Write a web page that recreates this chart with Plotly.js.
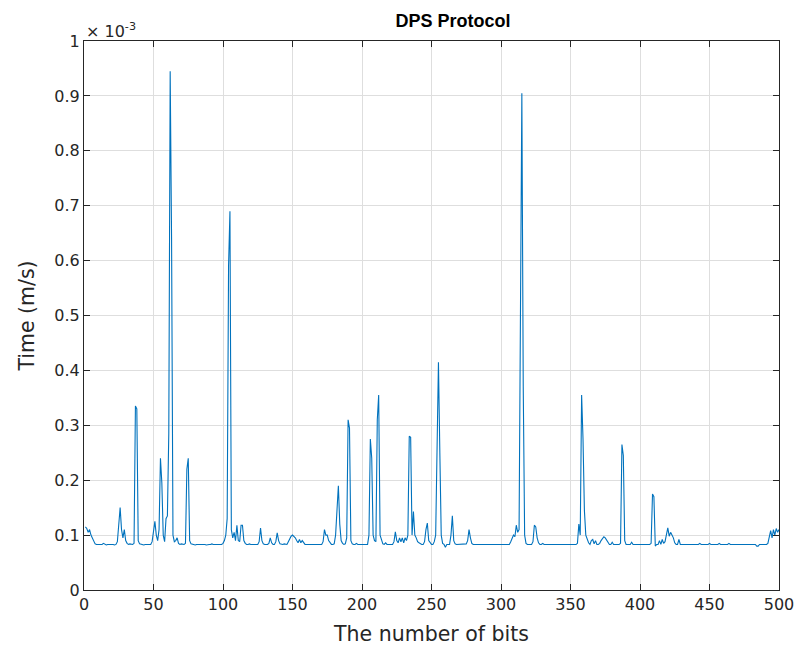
<!DOCTYPE html>
<html>
<head>
<meta charset="utf-8">
<script src="https://cdn.plot.ly/plotly-3.0.1.min.js"></script>
<style>html,body{margin:0;padding:0;background:#fff;}#chart{width:804px;height:655px;}</style>
</head>
<body>
<div id="chart"></div>
<script>
// Time values in units of 1e-3 (index = number of bits, 1..500)
var timeValues = [
0.115,0.112,0.105,0.11,0.1,0.095,0.088,0.084,0.083,0.083,
0.082,0.083,0.083,0.085,0.083,0.082,0.083,0.083,0.084,0.083,
0.083,0.082,0.083,0.088,0.125,0.15,0.11,0.095,0.11,0.09,
0.085,0.083,0.084,0.083,0.083,0.085,0.335,0.33,0.09,0.084,
0.083,0.083,0.082,0.083,0.083,0.084,0.083,0.083,0.088,0.11,
0.125,0.1,0.09,0.11,0.24,0.195,0.1,0.088,0.13,0.135,
0.285,0.945,0.64,0.1,0.088,0.09,0.095,0.085,0.083,0.084,
0.083,0.083,0.085,0.22,0.24,0.09,0.084,0.083,0.083,0.082,
0.083,0.083,0.083,0.084,0.083,0.083,0.083,0.082,0.083,0.083,
0.083,0.084,0.083,0.083,0.083,0.083,0.082,0.083,0.083,0.085,
0.09,0.1,0.13,0.59,0.69,0.11,0.095,0.105,0.09,0.118,
0.09,0.088,0.118,0.118,0.09,0.085,0.083,0.083,0.084,0.083,
0.083,0.083,0.083,0.083,0.083,0.088,0.113,0.09,0.084,0.083,
0.083,0.083,0.085,0.095,0.086,0.083,0.083,0.088,0.104,0.09,
0.084,0.083,0.083,0.084,0.083,0.083,0.088,0.095,0.098,0.1,
0.098,0.095,0.09,0.086,0.092,0.086,0.09,0.085,0.083,0.083,
0.083,0.084,0.083,0.083,0.083,0.083,0.083,0.084,0.083,0.083,
0.083,0.088,0.11,0.1,0.1,0.09,0.085,0.083,0.083,0.084,
0.1,0.145,0.19,0.12,0.09,0.085,0.083,0.084,0.095,0.31,
0.295,0.09,0.084,0.083,0.083,0.085,0.083,0.083,0.083,0.083,
0.083,0.084,0.083,0.083,0.1,0.275,0.24,0.1,0.09,0.088,
0.31,0.355,0.1,0.09,0.084,0.083,0.086,0.083,0.083,0.083,
0.083,0.083,0.088,0.106,0.09,0.086,0.095,0.088,0.095,0.086,
0.095,0.09,0.1,0.28,0.278,0.1,0.143,0.1,0.095,0.088,
0.086,0.084,0.083,0.083,0.088,0.11,0.122,0.09,0.085,0.083,
0.083,0.088,0.1,0.31,0.415,0.25,0.1,0.085,0.083,0.078,
0.083,0.083,0.083,0.1,0.135,0.09,0.084,0.083,0.083,0.083,
0.083,0.083,0.083,0.083,0.084,0.09,0.11,0.095,0.085,0.083,
0.083,0.083,0.083,0.083,0.083,0.083,0.083,0.083,0.083,0.083,
0.083,0.083,0.083,0.083,0.083,0.083,0.083,0.083,0.083,0.083,
0.083,0.083,0.083,0.083,0.083,0.083,0.088,0.095,0.1,0.097,
0.118,0.105,0.11,0.505,0.905,0.37,0.1,0.085,0.083,0.083,
0.083,0.083,0.088,0.118,0.115,0.095,0.086,0.083,0.083,0.085,
0.083,0.083,0.083,0.083,0.083,0.083,0.083,0.083,0.083,0.083,
0.083,0.083,0.083,0.083,0.083,0.083,0.083,0.083,0.083,0.083,
0.083,0.083,0.083,0.083,0.085,0.12,0.1,0.355,0.275,0.145,
0.1,0.092,0.086,0.083,0.09,0.092,0.084,0.09,0.083,0.083,
0.085,0.09,0.095,0.097,0.095,0.09,0.085,0.083,0.083,0.087,
0.083,0.083,0.083,0.083,0.083,0.085,0.265,0.245,0.09,0.083,
0.083,0.083,0.083,0.087,0.083,0.083,0.083,0.083,0.083,0.083,
0.083,0.083,0.083,0.083,0.083,0.083,0.083,0.085,0.175,0.17,
0.08,0.083,0.083,0.09,0.083,0.092,0.085,0.088,0.1,0.113,
0.098,0.105,0.1,0.095,0.086,0.083,0.083,0.092,0.083,0.083,
0.083,0.083,0.083,0.083,0.083,0.083,0.083,0.083,0.083,0.083,
0.083,0.083,0.085,0.083,0.083,0.083,0.083,0.083,0.083,0.085,
0.083,0.083,0.083,0.083,0.083,0.083,0.085,0.083,0.083,0.083,
0.083,0.083,0.083,0.085,0.083,0.083,0.083,0.083,0.083,0.083,
0.083,0.083,0.083,0.083,0.083,0.083,0.083,0.083,0.083,0.083,
0.083,0.083,0.083,0.08,0.08,0.083,0.083,0.083,0.083,0.083,
0.083,0.085,0.095,0.108,0.095,0.11,0.1,0.112,0.105,0.11
];
var bits = timeValues.map(function(_, i){ return i + 1; });
var xTicks = [0,50,100,150,200,250,300,350,400,450,500];
var yTicks = [0,0.1,0.2,0.3,0.4,0.5,0.6,0.7,0.8,0.9,1];
var yTickText = ['0','0.1','0.2','0.3','0.4','0.5','0.6','0.7','0.8','0.9','1'];

var FONT = 'DejaVu Sans, Liberation Sans, Arial, sans-serif';
var TITLEFONT = 'Liberation Sans, Arial, sans-serif';

var axisCommon = {
  showline: true, linecolor: '#262626', linewidth: 1, mirror: 'ticks',
  ticks: 'inside', ticklen: 6, tickcolor: '#262626', tickwidth: 1,
  showgrid: true, gridcolor: '#dedede', gridwidth: 1,
  zeroline: false,
  tickfont: {family: FONT, size: 16, color: '#262626'}
};

var layout = {
  width: 804, height: 655,
  margin: {l: 84, r: 25, t: 41, b: 65},
  paper_bgcolor: '#ffffff', plot_bgcolor: '#ffffff',
  showlegend: false,
  title: {text: '<b>DPS Protocol</b>', xref: 'paper', x: 0.531, xanchor: 'center', y: 0.969, yanchor: 'middle',
          font: {family: TITLEFONT, size: 18, color: '#000'}},
  xaxis: Object.assign({}, axisCommon, {
    range: [0, 500], tickvals: xTicks, ticktext: xTicks.map(String),
    title: {text: 'The number of bits', standoff: 13,
            font: {family: FONT, size: 20.5, color: '#262626'}}
  }),
  yaxis: Object.assign({}, axisCommon, {
    range: [0, 1], tickvals: yTicks, ticktext: yTickText,
    title: {text: 'Time (m/s)', standoff: 14,
            font: {family: FONT, size: 20.5, color: '#262626'}}
  }),
  annotations: [{
    text: '\u00d7 10<sup>-3</sup>', xref: 'paper', yref: 'paper', x: 0.0, y: 1.0,
    xanchor: 'left', yanchor: 'bottom', yshift: -2, showarrow: false,
    font: {family: FONT, size: 16, color: '#262626'}
  }]
};

var trace = {
  x: bits, y: timeValues, type: 'scatter', mode: 'lines',
  line: {color: '#0072BD', width: 1.1},
  hoverinfo: 'x+y'
};

Plotly.newPlot('chart', [trace], layout, {displayModeBar: false, staticPlot: true});
</script>
</body>
</html>
